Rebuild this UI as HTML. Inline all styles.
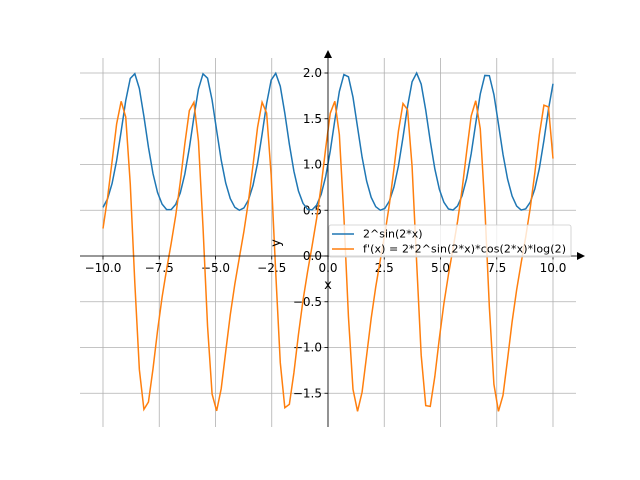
<!DOCTYPE html>
<html><head><style>body{margin:0;background:#fff}svg{display:block}text{font-family:"DejaVu Sans","Liberation Sans",sans-serif}</style></head>
<body>
<svg id="s" width="640" height="480" xmlns="http://www.w3.org/2000/svg">
<g stroke="#b0b0b0" stroke-width="0.8" id="grid"></g>
<g id="ticks" font-size="12" fill="#000"></g>
<path id="p1" fill="none" stroke="#1f77b4" stroke-width="1.5"/>
<path id="p2" fill="none" stroke="#ff7f0e" stroke-width="1.5"/>
<line x1="328" y1="58" x2="328" y2="427" stroke="#000" stroke-width="0.8"/>
<line x1="80" y1="256" x2="582" y2="256" stroke="#000" stroke-width="0.8"/>
<polygon points="328,50 324,58 332,58" fill="#000"/>
<polygon points="585,256 577,252 577,260" fill="#000"/>
<text x="328" y="289" font-size="13" text-anchor="middle">x</text>
<text transform="translate(280,243) rotate(-90)" font-size="13" text-anchor="middle">y</text>
<rect x="329" y="225" width="242" height="32" fill="#fff" fill-opacity="0.8" stroke="#ccc" stroke-width="0.8" rx="2"/>
<line x1="332" y1="234" x2="354" y2="234" stroke="#1f77b4" stroke-width="1.5"/>
<line x1="332" y1="249" x2="354" y2="249" stroke="#ff7f0e" stroke-width="1.5"/>
<text x="363" y="237.5" font-size="11">2^sin(2*x)</text>
<text x="363" y="252.5" font-size="11" textLength="203">f'(x) = 2*2^sin(2*x)*cos(2*x)*log(2)</text>
</svg>
<script>
var X=function(x){return 328+22.5*x},Y=function(y){return 256-91.5*y};
var g=document.getElementById('grid'),t=document.getElementById('ticks'),ns='http://www.w3.org/2000/svg';
function el(p,n,a,txt){var e=document.createElementNS(ns,n);for(var k in a)e.setAttribute(k,a[k]);if(txt)e.textContent=txt;p.appendChild(e);}
[-10,-7.5,-5,-2.5,0,2.5,5,7.5,10].forEach(function(v){var x=X(v);el(g,'line',{x1:x,x2:x,y1:58,y2:427});el(t,'line',{x1:x,x2:x,y1:256,y2:259.5,stroke:'#000','stroke-width':0.8});el(t,'text',{x:x,y:272,'text-anchor':'middle'},v.toFixed(1).replace('-','\u2212'));});
[-1.5,-1,-0.5,0,0.5,1,1.5,2].forEach(function(v){var y=Y(v);el(g,'line',{x1:80,x2:576,y1:y,y2:y});el(t,'line',{x1:324.5,x2:328,y1:y,y2:y,stroke:'#000','stroke-width':0.8});el(t,'text',{x:322,y:y+4,'text-anchor':'end'},v.toFixed(1).replace('-','\u2212'));});
var a='',b='';for(var i=0;i<100;i++){var x=-10+20*i/99,s=Math.pow(2,Math.sin(2*x)),d=2*s*Math.cos(2*x)*Math.log(2);a+=(i?'L':'M')+X(x).toFixed(2)+','+Y(s).toFixed(2);b+=(i?'L':'M')+X(x).toFixed(2)+','+Y(d).toFixed(2);}
document.getElementById('p1').setAttribute('d',a);document.getElementById('p2').setAttribute('d',b);
</script>
</body></html>
